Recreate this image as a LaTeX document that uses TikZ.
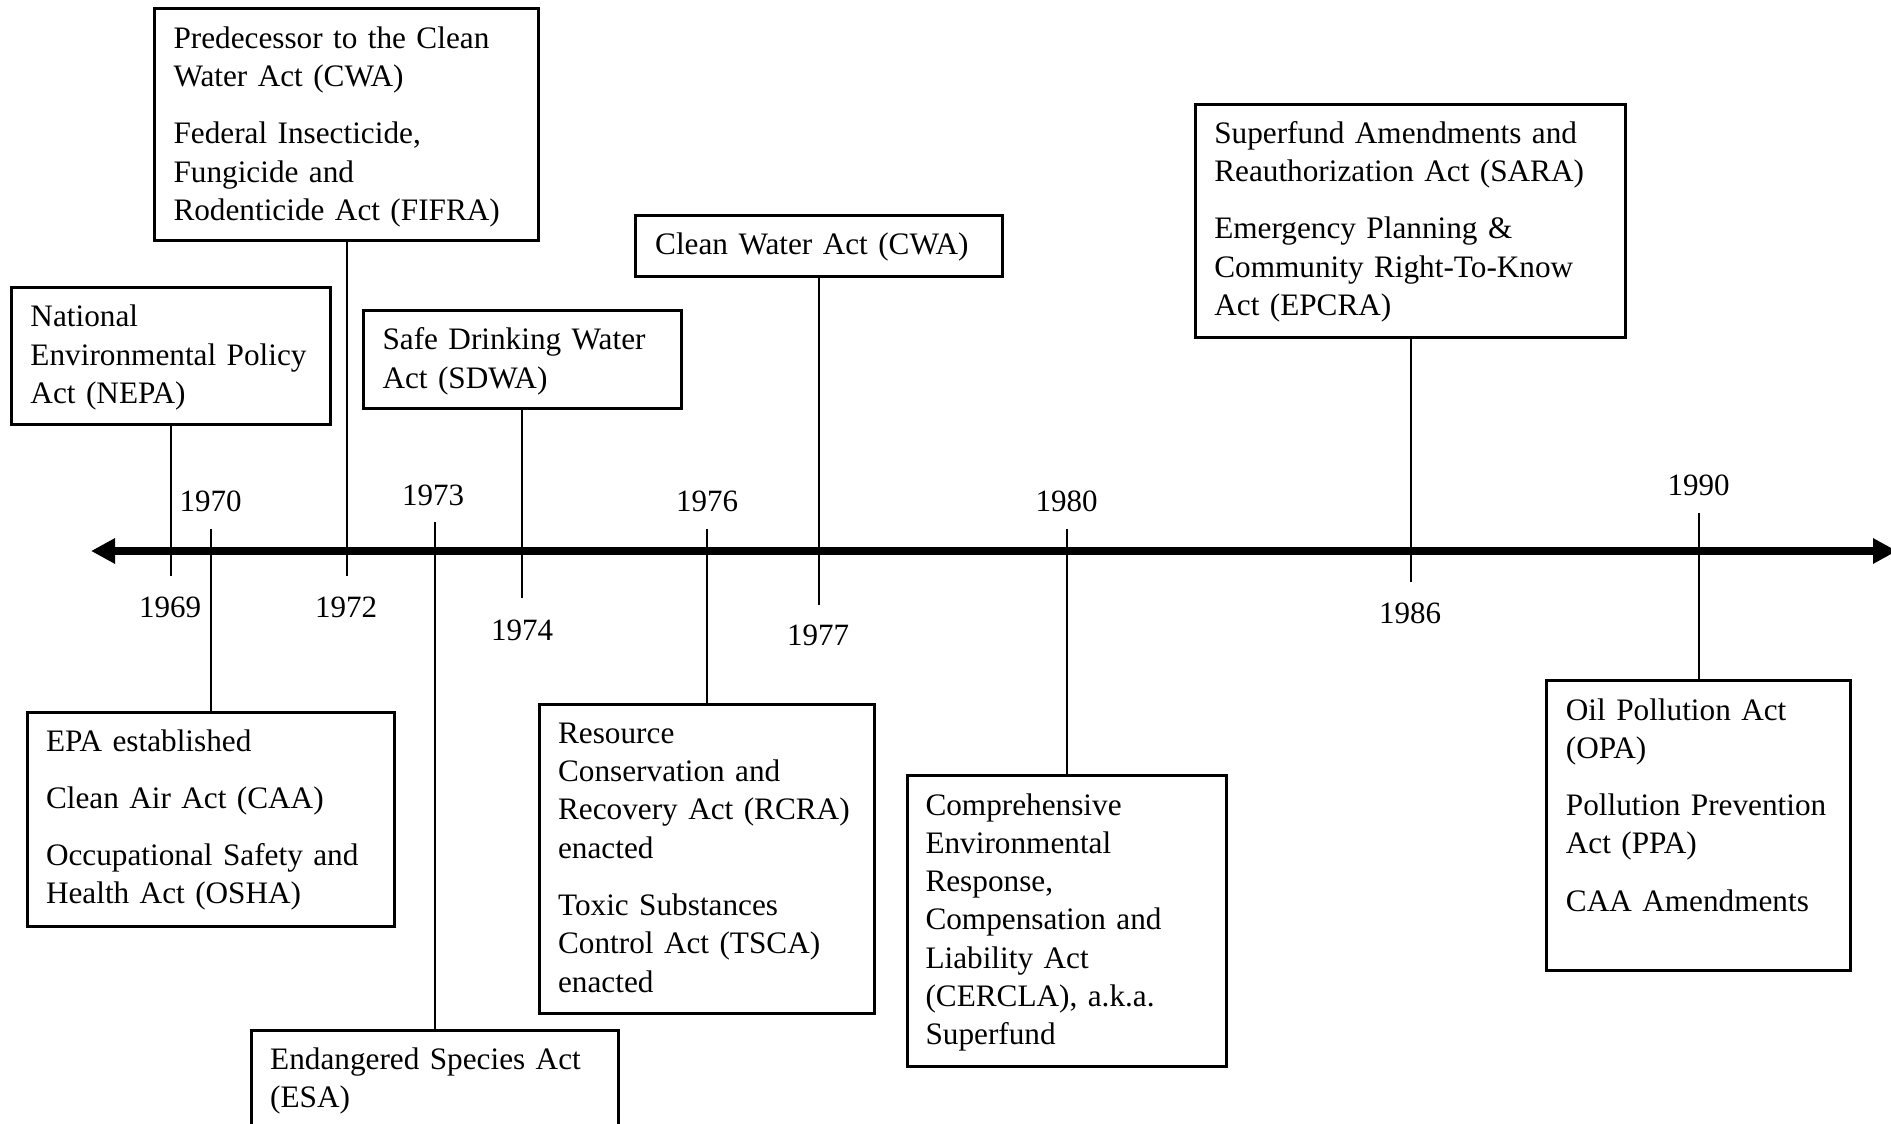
\documentclass[tikz,border=0pt]{standalone}
\usepackage{fontspec}
\setmainfont{Liberation Serif}
\usetikzlibrary{arrows.meta}
\newcommand\tlbox[5]{\node[frame, minimum width={(#4-#2)*0.4pt-0.6pt}, minimum height={(#5-#3)*0.4pt}] (#1) at (#2,#3) {};}
\begin{document}
\begin{tikzpicture}[x=0.4pt,y=-0.4pt,
  frame/.style={draw, line width=1.2pt, inner sep=0pt, anchor=north west},
  txt/.style={anchor=base west, inner sep=0pt, align=left, text width=170pt, font=\fontsize{12.5}{15.33}\selectfont},
  yr/.style={anchor=base, inner sep=0pt, font=\fontsize{12.4}{15}\selectfont},
  tick/.style={line width=0.8pt},
  axis/.style={line width=3pt, {Triangle[length=9.6pt,width=9.6pt]}-{Triangle[length=9.6pt,width=9.6pt]}}
]
\useasboundingbox (0,0) rectangle (1891,1124);
\fill[white] (0,0) rectangle (1891,1124);

% timeline
\coordinate (tl1) at (91,551);
\coordinate (tl2) at (1897,551);
\draw[axis] (tl1) -- (tl2);

% boxes above the line
\tlbox{nepa}{9.6}{286}{330}{422.7}
\node[txt] (tnepa) at (30,326.7) {National\\Environmental Policy\\Act (NEPA)};
\tlbox{fifra}{153}{7}{538.5}{239}
\node[txt] (tfifra) at (173,48.3) {Predecessor to the Clean\\Water Act (CWA)\\[7.6pt]Federal Insecticide,\\Fungicide and\\Rodenticide Act (FIFRA)};
\tlbox{sdwa}{361.6}{309}{681}{406.7}
\node[txt] (tsdwa) at (382,350) {Safe Drinking Water\\Act (SDWA)};
\tlbox{cwa}{633.7}{214}{1002}{274.7}
\node[txt] (tcwa) at (654.7,255) {Clean Water Act (CWA)};
\tlbox{sara}{1194}{102.7}{1625.6}{335.7}
\node[txt] (tsara) at (1213.8,143.3) {Superfund Amendments and\\Reauthorization Act (SARA)\\[7.6pt]Emergency Planning \&\\Community Right-To-Know\\Act (EPCRA)};

% boxes below the line
\tlbox{epa}{25.5}{710.7}{394.5}{925}
\node[txt] (tepa) at (45.5,751) {EPA established\\[7.6pt]Clean Air Act (CAA)\\[7.6pt]Occupational Safety and\\Health Act (OSHA)};
\tlbox{esa}{249.7}{1029}{618}{1150}
\node[txt] (tesa) at (269.7,1069) {Endangered Species Act\\(ESA)};
\tlbox{rcra}{538}{702.7}{874.5}{1011.7}
\node[txt] (trcra) at (557.6,743.3) {Resource\\Conservation and\\Recovery Act (RCRA)\\enacted\\[7.6pt]Toxic Substances\\Control Act (TSCA)\\enacted};
\tlbox{cercla}{905.8}{774.3}{1226}{1065}
\node[txt] (tcercla) at (925,815) {Comprehensive\\Environmental\\Response,\\Compensation and\\Liability Act\\(CERCLA), a.k.a.\\Superfund};
\tlbox{opa}{1545.4}{679}{1850.3}{969.3}
\node[txt] (topa) at (1565.4,720) {Oil Pollution Act\\(OPA)\\[7.6pt]Pollution Prevention\\Act (PPA)\\[7.6pt]CAA Amendments};

% ticks from boxes above, years below
\coordinate (e69) at (170,576);
\draw[tick] (nepa.south) -- (nepa.south |- e69);
\node[yr] (y1969) at (170,617) {1969};
\coordinate (e72) at (346,576);
\draw[tick] (fifra.south) -- (fifra.south |- e72);
\node[yr] (y1972) at (346,617) {1972};
\coordinate (e74) at (522,598);
\draw[tick] (sdwa.south) -- (sdwa.south |- e74);
\node[yr] (y1974) at (522,640) {1974};
\coordinate (e77) at (818,605);
\draw[tick] (cwa.south) -- (cwa.south |- e77);
\node[yr] (y1977) at (818,645) {1977};
\coordinate (e86) at (1410,582);
\draw[tick] (sara.south) -- (sara.south |- e86);
\node[yr] (y1986) at (1410,623) {1986};

% ticks from years above, boxes below
\coordinate (e70) at (210,529);
\draw[tick] (epa.north |- e70) -- (epa.north);
\node[yr] (y1970) at (210.6,511.7) {1970};
\coordinate (e73) at (434,522);
\draw[tick] (esa.north |- e73) -- (esa.north);
\node[yr] (y1973) at (433,505) {1973};
\coordinate (e76) at (706,529);
\draw[tick] (rcra.north |- e76) -- (rcra.north);
\node[yr] (y1976) at (707,511.7) {1976};
\coordinate (e80) at (1066,529);
\draw[tick] (cercla.north |- e80) -- (cercla.north);
\node[yr] (y1980) at (1066.5,511.7) {1980};
\coordinate (e90) at (1698,513);
\draw[tick] (opa.north |- e90) -- (opa.north);
\node[yr] (y1990) at (1698.5,495.7) {1990};
\end{tikzpicture}
\end{document}
